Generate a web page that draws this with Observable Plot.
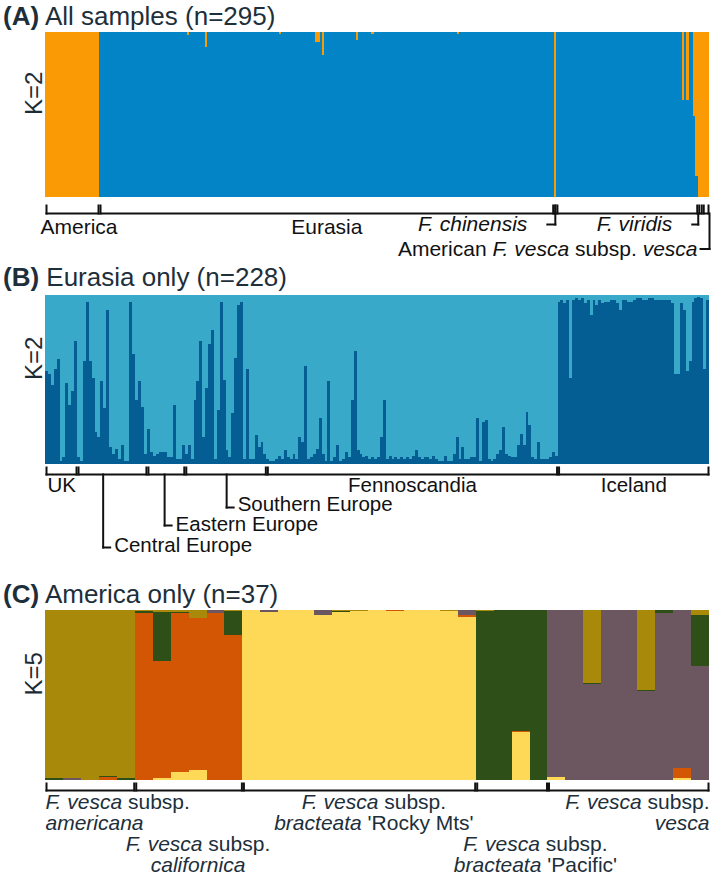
<!DOCTYPE html>
<html><head><meta charset="utf-8">
<script src="https://cdn.jsdelivr.net/npm/d3@7"></script>
<script src="https://cdn.jsdelivr.net/npm/@observablehq/plot@0.6"></script>
<style>
body{margin:0;background:#fff;}
#wrap{position:relative;width:714px;height:875px;overflow:hidden;font-family:"Liberation Sans",Arial,Helvetica,sans-serif;}
.title{position:absolute;left:3px;font-size:26px;line-height:30px;color:#1d2f3b;white-space:nowrap;}
.title b{font-weight:bold;}
</style></head><body><div id="wrap"></div>
<script>
// ---------------- DATA ----------------
// Panel A (K=2): proportion of the orange cluster per individual, by group
const A_groupNames = ["America", "Eurasia", "F. chinensis", "F. viridis", "", "American F. vesca subsp. vesca"];
const A_america = [1,1,1,1,1,1,1,1,1,1,1,1,1,1,1,1,1,1,1,1,1,1,1,1];
const A_eurasia = [
0,0,0,0,0,0,0,0,0,0,0,0,0,0,0,0,0,0,0,0,
0,0,0,0,0,0,0,0,0,0,0,0,0,0,0,0,0,0,0,0.02,
0,0,0,0,0,0,0,0.09,0,0,0,0,0,0,0,0,0,0,0,0,
0,0,0,0,0,0,0,0,0,0,0,0,0,0,0,0,0,0,0,0,
0.01,0,0,0,0,0,0,0,0,0,0,0,0,0,0,0,0.06,0.06,0,0.14,
0,0,0,0,0,0,0,0,0,0,0,0,0,0,0.05,0,0,0,0,0,
0,0.01,0,0,0,0,0,0,0,0,0,0,0,0,0,0,0,0,0,0,
0,0,0,0,0,0,0,0,0,0,0,0,0,0,0,0,0,0,0,0.01,
0,0,0,0,0,0,0,0,0,0,0,0,0,0,0,0,0,0,0,0,
0,0,0,0,0,0,0,0,0,0,0,0,0,0,0,0,0,0,0,0,
0,0];
const A_chinensis = [1];
const A_viridis = [
0,0,0,0,0,0,0,0,0,0,0,0,0,0,0,0,0,0,0,0,
0,0,0,0,0,0,0,0,0,0,0,0,0,0,0,0,0,0,0,0,
0,0,0,0,0,0,0,0,0,0,0,0,0,0,0,0,0.41,0,0.41,0,
0,0.51,0.87];
const A_unlabeled = [1,1];
const A_amVesca = [1,1,1];
const A_clusters = ["Eurasian cluster", "American cluster"];
const A_colors = ["#0384c6", "#fa9b06"];

// Panel B (K=2): proportion of the dark-blue cluster per individual, by region
const B_groupNames = ["UK", "Central Europe", "Eastern Europe", "Southern Europe", "Fennoscandia", "Iceland"];
const B_uk = [0.55,0.53,0.47,0.56,0.62,0.02,0.04,0.48,0.35,0.43,0.73];
const B_central = [0.04,0.02,0.61,0.96,0.61,0.51,0.19,0.16,0.49,0.33,0.91,0.10,0.06,0.09,0.03,0.11,0.02,0.02,0.96,0.65,0.38,0.49,0.34,0.06];
const B_eastern = [0.21,0.07,0.05,0.06,0.07,0.07,0.07,0.04,0.04,0.35,0.03,0.03,0.11];
const B_southern = [0.06,0.11,0.03,0.38,0.49,0.73,0.16,0.45,
  0.71,0.79,0.03,0.32,0.96,0.50,0.08,0.04,0.30,0.63,0.94,0.96,0.03,0.56,0.03,0.03,0.17,0.10,0.13,0.06];
const B_fenno = [
  0.03,0.02,0.02,0.03,0.05,0.03,0.08,0.04,0.03,0.06,0.03,0.16,0.13,0.58,0.03,0.04,0.06,0.09,0.27,0.06,
  0.02,0.49,0.02,0.04,0.11,0.02,0.03,0.07,0.04,0.38,0.67,0.08,0.06,0.04,0.05,0.03,0.04,0.03,
  0.04,0.16,0.38,0.03,0.05,0.03,0.04,0.03,0.04,0.03,0.04,0.03,0.05,0.08,0.04,0.03,0.04,0.04,0.03,0.05,
  0.03,0.02,0.02,0.05,0.02,0.02,0.06,0.16,0.03,0.10,0.03,0.03,0.04,0.04,0.27,0.02,0.25,0.26,0.03,0.02,
  0.03,0.06,0.08,0.22,0.06,0.05,0.04,0.04,0.11,0.18,0.11,0.31,0.23,0.04,0.03,0.13,
  0.03,0.03,0.03,0.04,0.07,0.05];
const B_iceland = [0.96,0.97,0.95,0.97,0.51,0.97,0.98,0.97,0.98,0.95,0.97,0.88,0.97,0.94,0.97,0.95,0.96,0.96,0.97,0.97,
  0.95,0.91,0.97,0.97,0.96,0.96,0.97,0.98,0.98,0.97,0.97,0.98,0.98,0.97,0.97,0.97,0.97,0.97,0.97,0.95,
  0.53,0.53,0.95,0.91,0.55,0.61,0.96,0.98,0.99,0.98,0.56,0.97];
const B_clusters = ["cluster 1", "cluster 2"];
const B_colors = ["#045e94", "#39a9c9"];

// Panel C (K=5): cluster memberships per individual (37 individuals)
const C_groupNames = ["americana", "californica", "bracteata 'Rocky Mts'", "bracteata 'Pacific'", "vesca"];
const C_groupSizes = [5, 6, 13, 4, 9];
const C_clusters = ["c1", "c2", "c3", "c4", "c5"];
const C_colors = ["#fdd957", "#d35605", "#6c5660", "#2f4f19", "#a8890a"];
const C_yellow = [0,0,0,0,0, 0,0.01,0.05,0.06,0,0, 1,0.99,1,1,0.97,0.99,0.995,1,0.995,1,1,0.995,0.96, 0,0,0.28,0, 0.02,0,0,0,0,0,0,0.01,0];
const C_orange = [0,0,0,0.015,0, 0.985,0.69,0.93,0.895,0.985,0.855, 0,0,0,0,0,0,0,0,0.005,0,0,0,0.01, 0,0,0.01,0, 0,0,0,0,0,0,0,0.06,0];
const C_mauve  = [0,0.01,0,0,0, 0,0,0,0,0.015,0, 0,0.01,0,0,0.03,0,0,0,0,0,0,0,0.03, 0,0,0,0, 0.98,1,0.565,1,1,0.525,0.985,0.93,0.67];
const C_green  = [0.01,0,0,0.01,0.01, 0.01,0.29,0.01,0,0,0.14, 0,0,0,0,0,0.005,0,0,0,0,0,0,0, 0.995,1,0.71,1, 0,0,0.005,0,0,0.005,0.015,0,0.30];
const C_olive  = [0.99,0.99,1,0.975,0.99, 0.005,0.01,0.01,0.045,0,0.005, 0,0,0,0,0,0.005,0.005,0,0,0,0,0.005,0, 0.005,0,0,0, 0,0,0.43,0,0,0.47,0,0,0.03];

// ---------------- HELPERS ----------------
const W = 714, ML = 45, MR = 5, IW = W - ML - MR;
const FONT = "Liberation Sans, Arial, Helvetica, sans-serif";
const wrap = document.getElementById("wrap");

function groupsFrom(names, sizes) {
  let s = 0;
  return names.map((name, k) => { const g = {name, start: s, end: s + sizes[k]}; s += sizes[k]; return g; });
}
function rowsFrom(seriesList, clusters) {
  const rows = [];
  const n = seriesList[0].length;
  for (let i = 0; i < n; i++) clusters.forEach((c, k) => rows.push({i0: i, i1: i + 1, cluster: c, q: seriesList[k][i]}));
  return rows;
}
function italicize(svg) {
  svg.querySelectorAll("text").forEach(t => {
    const s = t.textContent;
    if (!s.includes("*")) return;
    t.textContent = "";
    s.split("*").forEach((p, k) => {
      if (!p) return;
      const ts = document.createElementNS("http://www.w3.org/2000/svg", "tspan");
      if (k % 2) ts.setAttribute("font-style", "italic");
      ts.textContent = p;
      t.appendChild(ts);
    });
  });
}
function addTitle(letter, text, top) {
  const d = document.createElement("div");
  d.className = "title";
  d.style.top = top + "px";
  d.innerHTML = `<b>(${letter})</b> ${text}`;
  wrap.appendChild(d);
}

function structurePlot(o) {
  const ih = o.height - o.mt - o.mb;
  const below = px => -px / ih;           // pixel offset below the frame, in y units
  const u = px => px * o.n / IW;          // pixel width in sample units
  const e = u(1);
  const line = {stroke: "#111", strokeWidth: 2, strokeLinecap: "square"};
  const marks = [
    Plot.rectY(o.rows, Plot.stackY({x1: "i0", x2: "i1", y: "q", fill: "cluster", order: o.clusters,
      shapeRendering: "crispEdges"})),
    Plot.text([o.k], {frameAnchor: "left", dx: -11.5, rotate: -90, fontSize: 24, fill: "#1d2b35"}),
    // brackets
    Plot.link(o.brackets, {x1: d => d.start + e, x2: d => d.end - e, y1: below(o.L), y2: below(o.L), ...line}),
    Plot.link(o.brackets.flatMap(d => [d.start + e, d.end - e]), {x1: d => d, x2: d => d, y1: below(o.T), y2: below(o.L), ...line})
  ];
  for (const a of o.labels) {
    if (a.leader) {
      marks.push(Plot.link([a], {x1: a.at, x2: a.at, y1: below(o.L), y2: below(a.corner), ...line}));
      marks.push(Plot.link([a], {x1: a.at, x2: a.at + u(a.hook), y1: below(a.corner), y2: below(a.corner), ...line}));
    }
    marks.push(Plot.text([a], {x: a.x, y: below(a.y), text: d => d.text, textAnchor: a.anchor, dx: a.dx || 0,
      fontSize: o.fontSize, fill: o.textFill}));
  }
  const svg = Plot.plot({
    width: W, height: o.height,
    marginLeft: ML, marginRight: MR, marginTop: o.mt, marginBottom: o.mb,
    x: {domain: [0, o.n], axis: null},
    y: {domain: [0, 1], axis: null},
    color: {type: "ordinal", domain: o.clusters, range: o.colors},
    style: {fontFamily: FONT, background: "transparent", overflow: "visible"},
    marks
  });
  italicize(svg);
  svg.style.position = "absolute";
  svg.style.left = "0px";
  svg.style.top = o.top + "px";
  wrap.appendChild(svg);
}

// ---------------- PANEL A ----------------
addTitle("A", "All samples (n=295)", 1);
{
  const parts = [A_america, A_eurasia, A_chinensis, A_viridis, A_unlabeled, A_amVesca];
  const orange = parts.flat();
  const blue = orange.map(v => +(1 - v).toFixed(3));
  const n = orange.length;
  const g = groupsFrom(A_groupNames, parts.map(p => p.length));
  const hook = (end, y, gap, len, text) => ({x: end, y, text, anchor: "end", dx: -gap, leader: true, at: end, corner: y, hook: -len});
  structurePlot({
    top: 30, height: 230, mt: 2, mb: 63, n, k: "K=2",
    rows: rowsFrom([blue, orange], A_clusters), clusters: A_clusters, colors: A_colors,
    brackets: g, L: 16, T: 8, fontSize: 21, textFill: "#111",
    labels: [
      {x: g[0].start, y: 30, text: "America", anchor: "start", dx: -5},
      {x: (g[1].start + g[1].end) / 2, y: 30, text: "Eurasia", anchor: "middle"},
      hook((g[2].start + g[2].end) / 2, 27, 28, 8, "*F. chinensis*"),
      hook(g[3].end, 27, 26, 6, "*F. viridis*"),
      hook(g[5].end, 51.5, 12, 9, "American *F. vesca* subsp. *vesca*")
    ]
  });
}

// ---------------- PANEL B ----------------
addTitle("B", "Eurasia only (n=228)", 262);
{
  const parts = [B_uk, B_central, B_eastern, B_southern, B_fenno, B_iceland];
  const dark = parts.flat();
  const light = dark.map(v => +(1 - v).toFixed(3));
  const n = dark.length;
  const g = groupsFrom(B_groupNames, parts.map(p => p.length));
  const mid = k => (g[k].start + g[k].end) / 2;
  const lead = (k, at, corner, ty) => ({x: at, y: ty, text: g[k].name, anchor: "start", dx: 11, leader: true, at, corner, hook: 7});
  structurePlot({
    top: 291, height: 270, mt: 4, mb: 97, n, k: "K=2",
    rows: rowsFrom([dark, light], B_clusters), clusters: B_clusters, colors: B_colors,
    brackets: g, L: 10, T: 3, fontSize: 20.5, textFill: "#111",
    labels: [
      {x: g[0].start, y: 21, text: "UK", anchor: "start", dx: 2},
      lead(1, 19.8, 83, 81),
      lead(2, 40.9, 61, 60),
      lead(3, 62.2, 43, 40),
      {x: mid(4), y: 21, text: "Fennoscandia", anchor: "middle"},
      {x: mid(5), y: 21, text: "Iceland", anchor: "middle"}
    ]
  });
}

// ---------------- PANEL C ----------------
addTitle("C", "America only (n=37)", 579);
{
  const n = C_yellow.length;
  const g = groupsFrom(C_groupNames, C_groupSizes);
  const line1 = "*F. vesca* subsp.";
  const pair = (x, anchor, y1, y2, t2) => [
    {x, y: y1, text: line1, anchor}, {x, y: y2, text: t2, anchor}
  ];
  structurePlot({
    top: 608, height: 267, mt: 2, mb: 95, n, k: "K=5",
    rows: rowsFrom([C_yellow, C_orange, C_mauve, C_green, C_olive], C_clusters), clusters: C_clusters, colors: C_colors,
    brackets: g, L: 10, T: 3, fontSize: 21, textFill: "#1d2f3b",
    labels: [
      ...pair(g[0].start, "start", 22, 43, "*americana*"),
      ...pair(8.5, "middle", 64, 85, "*californica*"),
      ...pair(18.3, "middle", 22, 43, "*bracteata* 'Rocky Mts'"),
      ...pair(27.3, "middle", 64, 85, "*bracteata* 'Pacific'"),
      ...pair(g[4].end, "end", 22, 43, "*vesca*")
    ]
  });
}
</script></body></html>
